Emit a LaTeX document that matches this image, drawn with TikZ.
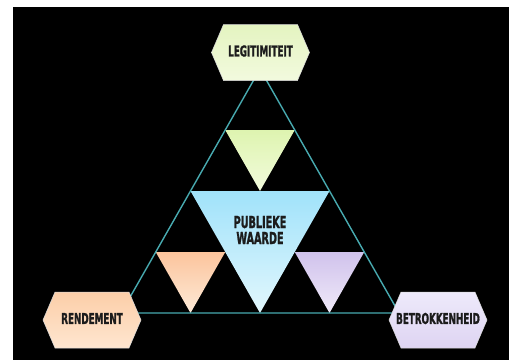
\documentclass[tikz,border=0pt]{standalone}
\usepackage{fontspec}
\newfontfamily\labfont[FakeStretch=0.65,FakeBold=1.2]{DejaVu Sans Condensed Bold}
\usetikzlibrary{calc}
\definecolor{teal1}{RGB}{72,170,176}
\definecolor{txt}{RGB}{28,28,28}
\definecolor{hgT}{RGB}{228,244,192}
\definecolor{hgB}{RGB}{242,250,222}
\definecolor{hoT}{RGB}{252,206,168}
\definecolor{hoB}{RGB}{254,230,208}
\definecolor{hpT}{RGB}{238,234,251}
\definecolor{hpB}{RGB}{222,212,242}
\definecolor{tgT}{RGB}{222,244,176}
\definecolor{tgB}{RGB}{242,251,220}
\definecolor{tbT}{RGB}{160,226,250}
\definecolor{tbB}{RGB}{226,247,253}
\definecolor{toT}{RGB}{252,196,156}
\definecolor{toB}{RGB}{253,234,216}
\definecolor{tpT}{RGB}{208,194,236}
\definecolor{tpB}{RGB}{240,234,249}
\tikzset{
  hexbox/.style={draw=white!85!black, line width=0.5pt},
  lab/.style={font=\labfont\fontsize{15}{16}\selectfont, text=txt, inner sep=0pt},
  biglab/.style={font=\labfont\fontsize{16.5}{16}\selectfont, text=txt, inner sep=0pt, align=center},
  edge/.style={draw=teal1, line width=1.4pt},
}
\newcommand\hexshape[3]{%
  \path[hexbox, top color=#2, bottom color=#3]
    ($(#1)+(-49,0)$) -- ($(#1)+(-37,-28)$) -- ($(#1)+(37,-28)$) --
    ($(#1)+(49,0)$) -- ($(#1)+(37,28)$) -- ($(#1)+(-37,28)$) -- cycle;}
\begin{document}
\begin{tikzpicture}[x=1pt,y=-1pt]
\useasboundingbox (0,0) rectangle (509,360);
\fill[white] (0,0) rectangle (509,360);
\fill[black] (13,7) rectangle (509,360);
% outer triangle vertices
\coordinate (A) at (260,69);
\coordinate (B) at (121,313);
\coordinate (C) at (399,313);
\coordinate (mAB) at ($(A)!0.5!(B)$);
\coordinate (mAC) at ($(A)!0.5!(C)$);
\coordinate (mBC) at ($(B)!0.5!(C)$);
% inner triangles
\path[top color=tgT, bottom color=tgB] ($(A)!0.5!(mAB)$) -- ($(A)!0.5!(mAC)$) -- ($(mAB)!0.5!(mAC)$) -- cycle;
\path[top color=tbT, bottom color=tbB] (mAB) -- (mAC) -- (mBC) -- cycle;
\path[top color=toT, bottom color=toB] ($(B)!0.5!(mAB)$) -- ($(mAB)!0.5!(mBC)$) -- ($(B)!0.5!(mBC)$) -- cycle;
\path[top color=tpT, bottom color=tpB] ($(mAC)!0.5!(mBC)$) -- ($(C)!0.5!(mAC)$) -- ($(C)!0.5!(mBC)$) -- cycle;
% outer triangle
\draw[edge] (A) -- (B) -- (C) -- cycle;
% hexagons
\coordinate (hL) at (260.5,52.5);
\coordinate (hR) at (92,320);
\coordinate (hB) at (438,320);
\hexshape{hL}{hgT}{hgB}
\hexshape{hR}{hoT}{hoB}
\hexshape{hB}{hpT}{hpB}
\node[lab] (legit) at (260.5,51) {LEGITIMITEIT};
\node[lab] (rend) at (92,318.5) {RENDEMENT};
\node[lab] (betr) at (438,318.5) {BETROKKENHEID};
\node[biglab] (pub) at (260,230) {PUBLIEKE\\WAARDE};
\end{tikzpicture}
\end{document}
